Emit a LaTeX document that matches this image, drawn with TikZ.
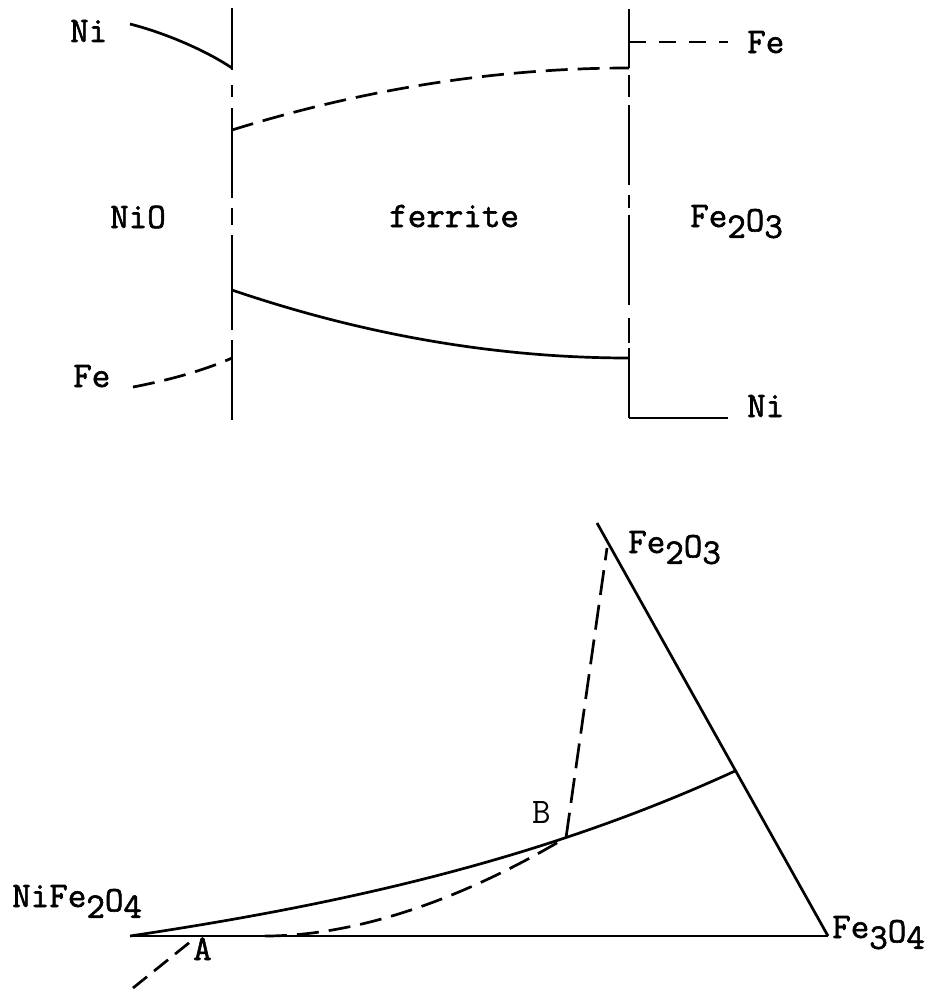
\documentclass[tikz,border=0pt]{standalone}
\usepackage{fontspec}
\newfontfamily\twfont{Latin Modern Mono}[FakeBold=1.6]
\usetikzlibrary{positioning}
\newcommand{\dn}[1]{\raisebox{-0.3em}{#1}}
\newcommand{\hdn}[1]{\raisebox{-0.12em}{#1}}
\tikzset{
  wall/.style={line width=2.7pt},
  solidph/.style={line width=2.7pt},
  dashph/.style={line width=2.7pt, dash pattern=on 22pt off 10pt},
  shortdash/.style={line width=2.7pt, dash pattern=on 17pt off 13pt},
  lbl/.style={font=\fontsize{36}{42}\selectfont\twfont, inner sep=0pt, anchor=base west},
  thinlbl/.style={lbl, font=\fontsize{36}{42}\selectfont\ttfamily}
}
\begin{document}
\begin{tikzpicture}[x=1pt,y=-1pt]
\useasboundingbox (0,0) rectangle (929,990);
% --- upper part: NiO | ferrite | Fe2O3
\coordinate (lwT) at (232,8);
\coordinate (lwB) at (232,420);
\coordinate (rwT) at (629,9);
\coordinate (rwB) at (629,418);
\draw[wall, dash pattern=on 62pt off 15pt on 12pt off 11pt on 90pt off 10pt on 17pt off 10pt on 95pt off 10pt on 80pt] (lwT) -- (lwB);
\draw[wall, dash pattern=on 59pt off 7pt on 22pt off 8pt on 80pt off 10pt on 13pt off 7pt on 90pt off 13pt on 25pt off 5pt on 70pt] (rwT) -- (rwB);

\coordinate (niA) at (130,24);
\coordinate (niB) at (232,68);
\coordinate (feA) at (133,387);
\coordinate (feB) at (232,358);
\coordinate (ffA) at (232,130);
\coordinate (ffB) at (629,68);
\coordinate (fnA) at (232,290);
\coordinate (fnB) at (629,358);
\coordinate (feR) at (629,42);
\coordinate (feRend) at (728,42);
\coordinate (niRend) at (728,418);

\draw[solidph] (niA) .. controls (165,33) and (205,50) .. (niB);
\draw[dashph] (feA) .. controls (170,380) and (205,370) .. (feB);
\draw[dashph] (ffA) .. controls (364,89) and (497,68) .. (ffB);
\draw[solidph] (fnA) .. controls (364,335) and (497,358) .. (fnB);
\draw[shortdash] (feR) -- (feRend);
\draw[solidph] (rwB) -- (niRend);

\node[lbl] (niL) at (70,42) {Ni};
\node[lbl] (feL) at (73,387) {Fe};
\node[lbl] (nio) at (110,228) {NiO};
\node[lbl] (ferr) at (389,227) {ferrite};
\node[lbl] (feRl) at (747,53) {Fe};
\node[lbl] (niRl) at (747,417) {Ni};
\node[lbl] (hem) at (690,227) {Fe\dn{2}\hdn{O}\dn{3}};

% --- lower part: section of the phase diagram
\coordinate (spin) at (130,936);
\coordinate (mag) at (828,936);
\coordinate (top) at (597,523);
\coordinate (side) at (735,771);
\coordinate (dashA) at (265,936);
\coordinate (hemB) at (607,548);
\coordinate (tailA) at (133,988);
\coordinate (A) at (195,938);

\draw[solidph] (spin) -- (mag);
\draw[solidph] (top) -- (mag);
\draw[solidph] (spin) .. controls (330,906) and (535,863) .. coordinate[pos=0.72] (B) (side);
\draw[dashph] (dashA) .. controls (365,936) and (473,893) .. (B);
\draw[dashph, dash pattern=on 25pt off 10pt] (B) -- (hemB);
\draw[dashph, dash pattern=on 18pt off 9pt] (tailA) -- (A);

\node[lbl] (nfo) at (12,907) {NiFe\dn{2}\hdn{O}\dn{4}};
\node[lbl] (hemL) at (628,553) {Fe\dn{2}\hdn{O}\dn{3}};
\node[lbl] (magL) at (832,938) {Fe\dn{3}\hdn{O}\dn{4}};
\node[thinlbl] (Bl) at (532,823) {B};
\node[lbl] (Al) at (193,960) {A};
\end{tikzpicture}
\end{document}
